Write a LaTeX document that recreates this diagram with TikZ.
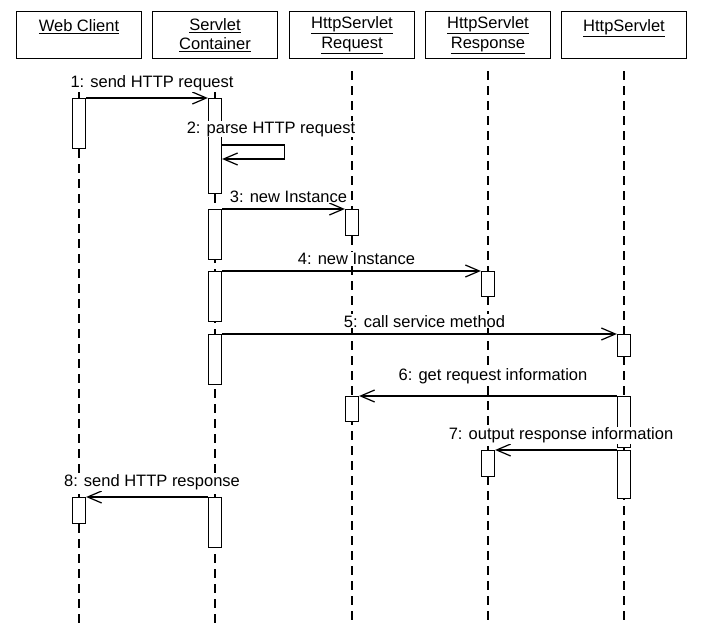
\documentclass[tikz,border=0pt]{standalone}
\usepackage{fontspec}
\setmainfont{Liberation Sans}
\usetikzlibrary{arrows.meta}

\begin{document}
\begin{tikzpicture}[
    x=1pt,y=-1pt,font=\fontsize{16.5}{18.5}\selectfont,
    head/.style={draw,line width=1.2pt,minimum width=125pt,minimum height=47pt,align=center,anchor=north,inner sep=2pt},
    bar/.style={draw,fill=white,line width=1.3pt,minimum width=13pt,anchor=north,inner sep=0pt},
    life/.style={line width=1.6pt,dash pattern=on 9pt off 6pt},
    msg/.style={line width=1.2pt,-{Straight Barb[length=14pt,width=12pt]}},
    lbl/.style={inner sep=1pt,fill=white,midway,above,yshift=5pt,xshift=5pt}
    ]
    \useasboundingbox (0,0) rectangle (716,639);
    % objects
    \node[head] (client) at (79,11) {\underline{Web Client}\\[1pt]\mbox{}};
    \node[head] (container) at (215,11) {\underline{Servlet}\\[1pt]\underline{Container}};
    \node[head] (request) at (352,11) {\underline{HttpServlet}\\[1pt]\underline{Request}};
    \node[head] (response) at (488,11) {\underline{HttpServlet}\\[1pt]\underline{Response}};
    \node[head] (servlet) at (624,11) {\underline{HttpServlet}\\[1pt]\mbox{}};
    % lifelines
    \draw[life] (client.south) ++(0,30) -- ++(0,534);
    \draw[life] (container.south) ++(0,30) -- ++(0,534);
    \draw[life] (request.south) ++(0,12) -- ++(0,552);
    \draw[life] (response.south) ++(0,12) -- ++(0,552);
    \draw[life] (servlet.south) ++(0,12) -- ++(0,552);
    % activations
    \node[bar,minimum height=50pt] (client1) at (79,98) {};
    \node[bar,minimum height=26pt] (client2) at (79,497) {};
    \node[bar,minimum height=95pt] (container1) at (215,98) {};
    \node[bar,minimum height=50pt] (container2) at (215,209) {};
    \node[bar,minimum height=50pt] (container3) at (215,271) {};
    \node[bar,minimum height=50pt] (container4) at (215,334) {};
    \node[bar,minimum height=50pt] (container5) at (215,497) {};
    \node[bar,minimum height=26pt] (request1) at (352,209) {};
    \node[bar,minimum height=25pt] (request2) at (352,396) {};
    \node[bar,minimum height=25pt] (response1) at (488,271) {};
    \node[bar,minimum height=26pt] (response2) at (488,450) {};
    \node[bar,minimum height=22pt] (servlet1) at (624,334) {};
    \node[bar,minimum height=51pt] (servlet2) at (624,396) {};
    \node[bar,minimum height=48pt] (servlet3) at (624,450) {};
    % messages
    \draw[msg] (client1.north east) -- (container1.north west) node[lbl] {1: send HTTP request};
    \draw[msg] (container1.north east) ++(0,47) -- ++(62,0) -- ++(0,14) -- ++(-62,0);
    \node[inner sep=1pt,fill=white] (parse) at (271,129) {2: parse HTTP request};
    \draw[msg] (container2.north east) -- (request1.north west) node[lbl] {3: new Instance};
    \draw[msg] (container3.north east) -- (response1.north west) node[lbl] {4: new Instance};
    \draw[msg] (container4.north east) -- (servlet1.north west) node[lbl] {5: call service method};
    \draw[msg] (servlet2.north west) -- (request2.north east) node[lbl,yshift=5pt] {6: get request information};
    \draw[msg] (servlet3.north west) -- (response2.north east) node[lbl] {7: output response information};
    \draw[msg] (container5.north west) -- (client2.north east) node[lbl] {8: send HTTP response};
\end{tikzpicture}
\end{document}
